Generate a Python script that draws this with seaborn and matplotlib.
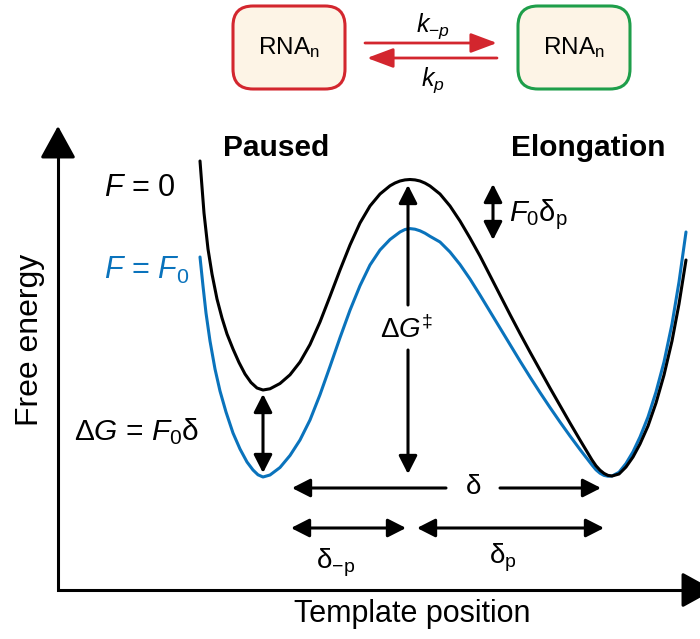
import matplotlib
matplotlib.use("Agg")
import matplotlib.pyplot as plt
from matplotlib.patches import FancyBboxPatch
import seaborn as sns

sns.set_style("white")
plt.rcParams['font.family'] = ['Liberation Sans', 'DejaVu Sans']
plt.rcParams['text.color'] = 'black'
plt.rcParams['mathtext.fontset'] = 'custom'
plt.rcParams['mathtext.rm'] = 'Liberation Sans'
plt.rcParams['mathtext.it'] = 'Liberation Sans:italic'
plt.rcParams['mathtext.bf'] = 'Liberation Sans:bold'
plt.rcParams['mathtext.default'] = 'regular'

# energy landscape (template position, free energy in px, y down)
black_x = [200, 204, 208, 212, 217, 222, 227, 233, 239, 245, 251, 257, 263, 270, 280, 290,
           300, 310, 320, 330, 340, 350, 360, 370, 380, 390, 395, 400, 405, 410, 415, 420,
           425, 430, 440, 450, 460, 470, 480, 490, 500, 510, 520, 530, 540, 550, 560, 570,
           580, 592, 596, 600, 604, 608, 612, 619, 626, 633, 640, 648, 656, 664, 672, 679,
           686]
black_y = [161, 213, 249, 274, 299, 318, 334, 349, 362.5, 374, 382.5, 388, 390, 388.8, 383.5,
           374.8, 362, 344.5, 322, 296.3, 270, 245, 223, 206, 194, 185.8, 183, 181, 179.9,
           179.5, 179.9, 181, 183.1, 186, 194, 206, 221, 238, 256, 275.5, 295, 314.5, 333.5,
           352, 370, 388, 405.5, 423, 440, 460, 465.8, 470.2, 473.4, 475.4, 476, 474, 467,
           457, 444, 426, 403, 375, 341, 304, 260]

blue_x = [200, 203, 206, 210, 215, 220, 226, 233, 240, 247, 253, 258, 263, 270, 280, 290,
          300, 310, 320, 330, 340, 350, 360, 370, 380, 390, 400, 405, 410, 415, 420, 425,
          430, 440, 450, 460, 470, 480, 490, 500, 510, 520, 530, 540, 550, 560, 570, 580,
          592, 596, 600, 604, 608, 612, 619, 626, 633, 640, 648, 656, 664, 672, 679, 686]
blue_y = [257, 286, 313, 341, 369, 391, 412, 433, 449, 462, 470, 474.8, 477, 475, 467.5,
          455.5, 440, 420, 394.7, 366.5, 337.7, 310.2, 285.7, 265, 250, 239.5, 232, 229.5,
          228.6, 229.2, 230.8, 233.2, 236.3, 242, 252, 264.5, 279, 295, 311.5, 328, 344.5,
          361, 377, 392.5, 407.5, 422, 436, 449.5, 465, 469.8, 473.2, 475.4, 476.2, 476,
          472.3, 463.5, 451.8, 437, 417, 392, 362, 324, 282, 232]

RED = '#D3262E'
GREEN = '#1E9E4A'
BLUE = '#0A73BC'
CREAM = '#FDF4E6'

fig = plt.figure(figsize=(7, 6.39), dpi=100)
ax = fig.add_axes([0, 0, 1, 1])
ax.set_xlim(0, 700)
ax.set_ylim(639, 0)
ax.axis('off')

# axes of the schematic
ax.plot([58, 58, 690], [150, 590, 590], color='k', lw=2.2, solid_joinstyle='miter',
        solid_capstyle='butt')
head = dict(arrowstyle='-|>,head_length=1.0,head_width=0.55', color='k', lw=2.2,
            mutation_scale=20, shrinkA=0, shrinkB=0)
ax.annotate('', xy=(58, 126), xytext=(58, 156), arrowprops=head)
ax.annotate('', xy=(714, 590), xytext=(684, 590), arrowprops=head, annotation_clip=False)

sns.lineplot(x=blue_x, y=blue_y, sort=False, estimator=None, color=BLUE, lw=2.2, ax=ax)
sns.lineplot(x=black_x, y=black_y, sort=False, estimator=None, color='k', lw=2.2, ax=ax)

small = dict(color='k', lw=2.2, mutation_scale=20, shrinkA=0, shrinkB=0)
one = dict(arrowstyle='-|>,head_length=0.55,head_width=0.28', **small)
two = dict(arrowstyle='<|-|>,head_length=0.55,head_width=0.28', **small)

# barrier arrow
ax.annotate('', xy=(408, 185), xytext=(408, 305), arrowprops=one)
ax.annotate('', xy=(408, 474), xytext=(408, 350), arrowprops=one)
ax.text(407, 330, 'Δ$\\mathit{G}^{‡}$', fontsize=20, ha='center', va='center')

# tilt arrows
ax.annotate('', xy=(263, 394), xytext=(263, 473), arrowprops=two)
ax.annotate('', xy=(493, 184), xytext=(493, 240), arrowprops=two)

# distance arrows
ax.annotate('', xy=(292, 488), xytext=(446, 488), arrowprops=one)
ax.annotate('', xy=(601, 488), xytext=(500, 488), arrowprops=one)
ax.text(474, 487, 'δ', fontsize=20, ha='center', va='center')
ax.annotate('', xy=(291, 528), xytext=(406, 528), arrowprops=two)
ax.annotate('', xy=(417, 528), xytext=(604, 528), arrowprops=two)
ax.text(336, 563, 'δ$_{\\mathrm{-p}}$', fontsize=20, ha='center', va='center')
ax.text(503, 558, 'δ$_{\\mathrm{p}}$', fontsize=20, ha='center', va='center')

# labels
ax.text(276, 148, 'Paused', fontsize=21.5, fontweight='bold', ha='center', va='center')
ax.text(588, 148, 'Elongation', fontsize=21.5, fontweight='bold', ha='center', va='center')
ax.text(104, 188, '$\\mathit{F}$ = 0', fontsize=22, ha='left', va='center')
ax.text(104, 270, '$\\mathit{F}$ = $\\mathit{F}_0$', fontsize=22, ha='left', va='center',
        color=BLUE)
ax.text(74, 432, 'Δ$\\mathit{G}$ = $\\mathit{F}_0$δ', fontsize=21.5, ha='left', va='center')
ax.text(509, 215, '$\\mathit{F}_0$δ$_{\\mathrm{p}}$', fontsize=21, ha='left', va='center')
ax.text(412, 614, 'Template position', fontsize=22, ha='center', va='center')
ax.text(30, 340, 'Free energy', fontsize=23, ha='center', va='center', rotation=90)

# state boxes and rates
for x0, edge in [(233, RED), (518, GREEN)]:
    ax.add_patch(FancyBboxPatch((x0, 6), 112, 83, boxstyle='round,pad=0,rounding_size=20',
                                facecolor=CREAM, edgecolor=edge, lw=2.2))
    ax.text(x0 + 56, 48, 'RNA$_{\\mathrm{n}}$', fontsize=17.5, ha='center', va='center')

rate = dict(arrowstyle='-|>,head_length=0.8,head_width=0.3', color=RED, lw=2,
            mutation_scale=20, shrinkA=0, shrinkB=0)
ax.annotate('', xy=(497, 43), xytext=(365, 43), arrowprops=rate)
ax.annotate('', xy=(367, 58), xytext=(497, 58), arrowprops=rate)
ax.text(433, 26, '$\\mathit{k}_{\\mathit{-p}}$', fontsize=18, ha='center', va='center')
ax.text(433, 80, '$\\mathit{k}_{\\mathit{p}}$', fontsize=18, ha='center', va='center')

fig.savefig('out.png', dpi=100)
